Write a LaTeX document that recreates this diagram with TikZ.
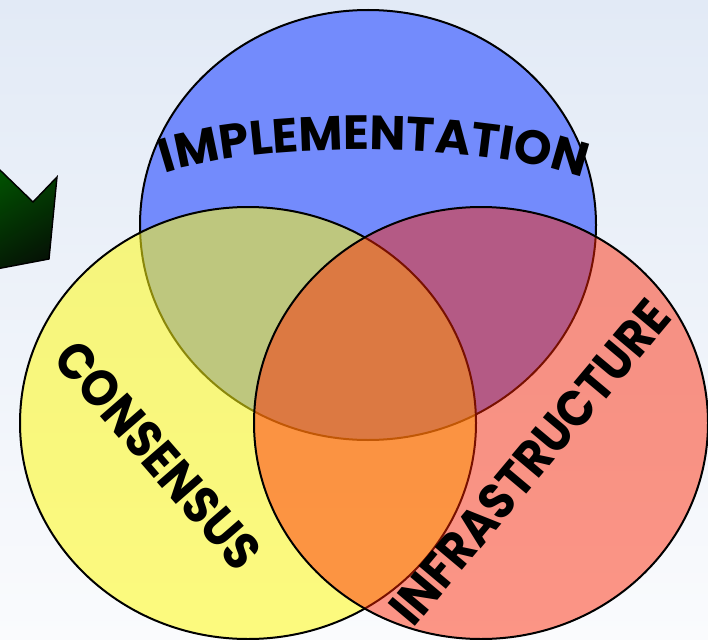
\documentclass[tikz,border=0pt]{standalone}
\usepackage{fontspec}
\newfontfamily\comic{Poppins}
\usetikzlibrary{decorations.text}
\definecolor{bgtop}{RGB}{226,234,246}
\definecolor{bgbot}{RGB}{250,251,253}
\definecolor{vblue}{RGB}{115,139,252}
\definecolor{vyel}{RGB}{255,250,20}
\definecolor{vred}{RGB}{255,35,0}
\definecolor{agreen}{RGB}{0,95,0}
\definecolor{adark}{RGB}{5,20,5}
\def\implfont{\comic\bfseries\fontsize{48}{52}\selectfont}
\tikzset{
  venn/.style={draw=black, line width=2pt},
  lbl/.style={font=\comic\bfseries\fontsize{46}{50}\selectfont, inner sep=0pt, text=black},
}
\begin{document}
\begin{tikzpicture}[x=1pt,y=-1pt]
\useasboundingbox (0,0) rectangle (708,639);
\clip (0,0) rectangle (708,639);
\shade[top color=bgtop,bottom color=bgbot] (0,0) rectangle (708,639);
% green arrow (cut off at left edge)
\shade[top color=agreen, bottom color=adark, shading angle=30, draw=black, line width=1.4pt, line join=miter]
  (-30,141) -- (33,202) -- (57,177) -- (49,259) -- (-30,274) -- cycle;
% circles
\path[venn, fill=vblue] (368,225) ellipse [x radius=228, y radius=215];
\path[venn, fill=vyel, fill opacity=0.54] (248,423) ellipse [x radius=228, y radius=216];
\path[venn, fill=vred, fill opacity=0.47] (481,423) ellipse [x radius=227, y radius=216];
% labels
\path[decorate, decoration={text along path, text={|\implfont|IMPLEMENTATION}, text align=center}]
  (163,174) .. controls (260,141) and (480,141) .. (585,179);
\node[lbl, rotate=-49, yscale=1.12] (cons) at (158,455) {CONSENSUS};
\node[lbl, rotate=50, yscale=1.1] (infra) at (530,462) {INFRASTRUCTURE};
\end{tikzpicture}
\end{document}
